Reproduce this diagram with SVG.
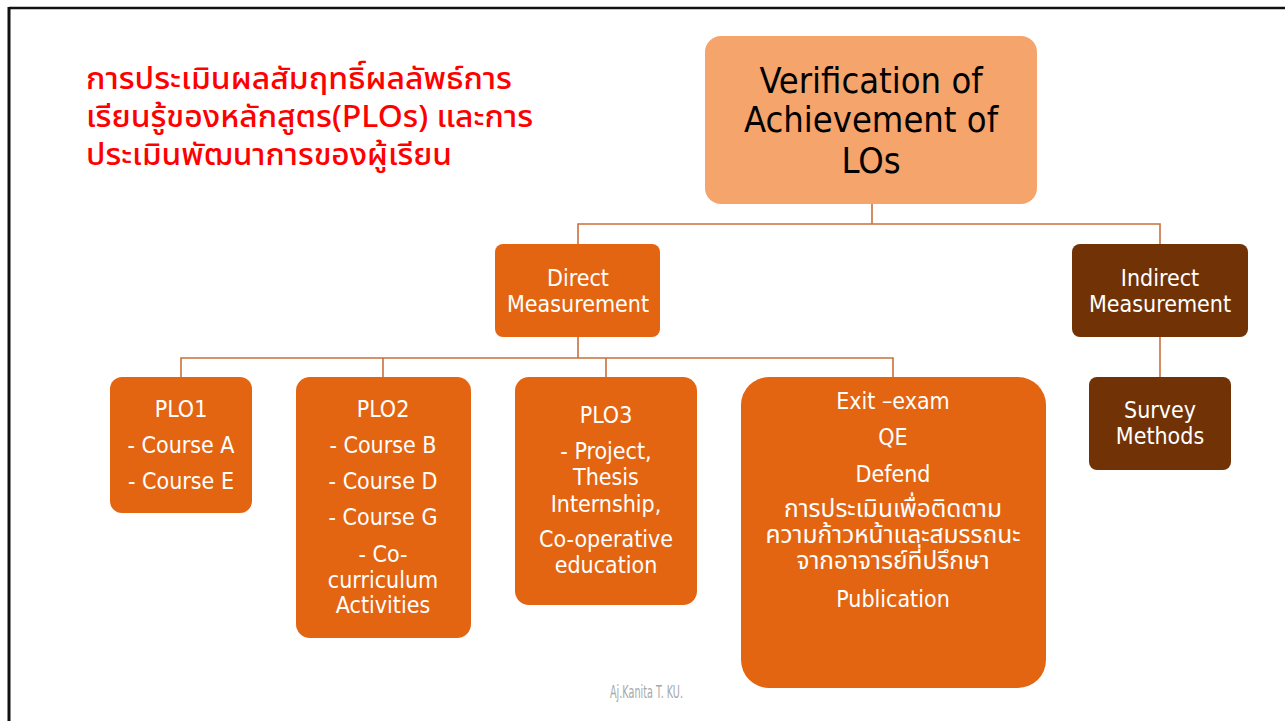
<svg xmlns="http://www.w3.org/2000/svg" width="1285" height="721" viewBox="0 0 1285 721">
<style>
.t{font-family:"DejaVu Sans Condensed","Liberation Sans","Noto Sans Thai",sans-serif;text-anchor:middle;fill:#fff;font-size:23px}
.th{font-family:"Noto Sans Thai","DejaVu Sans Condensed","Liberation Sans",sans-serif;text-anchor:middle;fill:#fff;font-size:24.5px}
.or{fill:#E46511}
.br{fill:#713306}
.ln{fill:none;stroke:#C9703A;stroke-width:1.6}
</style>
<rect width="1285" height="721" fill="#fff"/>
<line x1="9" y1="8" x2="1285" y2="8" stroke="#111" stroke-width="2.5"/>
<line x1="9" y1="7" x2="9" y2="721" stroke="#111" stroke-width="3"/>
<g id="title" font-family="'Noto Sans Thai','Liberation Sans',sans-serif" font-size="31" font-weight="500" fill="#FF0000">
<text x="86" y="89" textLength="426" lengthAdjust="spacingAndGlyphs">การประเมินผลสัมฤทธิ์ผลลัพธ์การ</text>
<text x="86" y="127" textLength="447" lengthAdjust="spacingAndGlyphs">เรียนรู้ของหลักสูตร(PLOs) และการ</text>
<text x="86" y="165" textLength="366" lengthAdjust="spacingAndGlyphs">ประเมินพัฒนาการของผู้เรียน</text>
</g>
<g id="connectors">
<path class="ln" d="M872 204V224M578 244V224H1160V244"/>
<path class="ln" stroke="#D0631C" d="M578 337V358M181 377V358H893V377M383 358V377M606 358V377"/>
<path class="ln" stroke="#E99C68" d="M1160 337V377"/>
</g>
<g id="root">
<rect x="705" y="36" width="332" height="168" rx="16" fill="#F5A46B"/>
<text class="t" style="fill:#000;font-size:36px" x="871" y="93">Verification of</text>
<text class="t" style="fill:#000;font-size:36px" x="871" y="132">Achievement of</text>
<text class="t" style="fill:#000;font-size:36px" x="871" y="173">LOs</text>
</g>
<g id="direct">
<rect class="or" x="495" y="244" width="165" height="93" rx="8"/>
<text class="t" x="578" y="286">Direct</text>
<text class="t" x="578" y="312">Measurement</text>
</g>
<g id="indirect">
<rect class="br" x="1072" y="244" width="176" height="93" rx="8"/>
<text class="t" x="1160" y="286">Indirect</text>
<text class="t" x="1160" y="312">Measurement</text>
</g>
<g id="plo1">
<rect class="or" x="110" y="377" width="142" height="136" rx="12"/>
<text class="t" x="181" y="417">PLO1</text>
<text class="t" x="181" y="453">- Course A</text>
<text class="t" x="181" y="489">- Course E</text>
</g>
<g id="plo2">
<rect class="or" x="296" y="377" width="175" height="261" rx="14"/>
<text class="t" x="383" y="417">PLO2</text>
<text class="t" x="383" y="453">- Course B</text>
<text class="t" x="383" y="489">- Course D</text>
<text class="t" x="383" y="525">- Course G</text>
<text class="t" x="383" y="562">- Co-</text>
<text class="t" x="383" y="588">curriculum</text>
<text class="t" x="383" y="613">Activities</text>
</g>
<g id="plo3">
<rect class="or" x="515" y="377" width="182" height="228" rx="14"/>
<text class="t" x="606" y="423">PLO3</text>
<text class="t" x="606" y="459">- Project,</text>
<text class="t" x="606" y="485">Thesis</text>
<text class="t" x="606" y="512">Internship,</text>
<text class="t" x="606" y="547">Co-operative</text>
<text class="t" x="606" y="573">education</text>
</g>
<g id="exit">
<rect class="or" x="741" y="377" width="305" height="311" rx="28"/>
<text class="t" x="893" y="409">Exit –exam</text>
<text class="t" x="893" y="445">QE</text>
<text class="t" x="893" y="482">Defend</text>
<text class="th" x="893" y="517">การประเมินเพื่อติดตาม</text>
<text class="th" x="893" y="543">ความก้าวหน้าและสมรรถนะ</text>
<text class="th" x="893" y="569">จากอาจารย์ที่ปรึกษา</text>
<text class="t" x="893" y="607">Publication</text>
</g>
<g id="survey">
<rect class="br" x="1089" y="377" width="142" height="93" rx="8"/>
<text class="t" x="1160" y="418">Survey</text>
<text class="t" x="1160" y="444">Methods</text>
</g>
<text id="credit" x="610" y="698" font-family="'DejaVu Sans Condensed','Liberation Sans',sans-serif" font-size="18" font-weight="200" fill="#A8A8A8" textLength="73" lengthAdjust="spacingAndGlyphs">Aj.Kanita T. KU.</text>
</svg>
